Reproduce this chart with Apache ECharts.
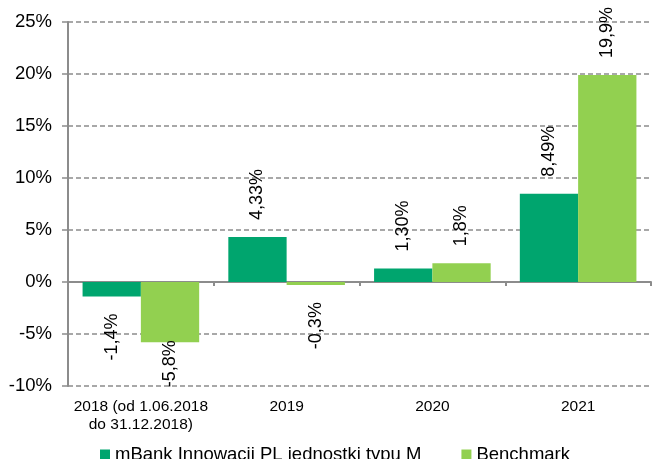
<!DOCTYPE html>
<html>
<head>
<meta charset="utf-8">
<script src="https://cdn.jsdelivr.net/npm/echarts@6/dist/echarts.min.js"></script>
<style>
html, body { margin: 0; padding: 0; background: #fff; }
#chart { width: 652px; height: 459px; }
</style>
</head>
<body>
<div id="chart"></div>
<script>
// dane
var categories = ['2018 (od 1.06.2018\ndo 31.12.2018)', '2019', '2020', '2021'];
var fundName = 'mBank Innowacji PL jednostki typu M';
var benchName = 'Benchmark';
var fundValues = [-1.4, 4.33, 1.30, 8.49];
var benchValues = [-5.8, -0.3, 1.8, 19.9];
var fundLabels = ['-1,4%', '4,33%', '1,30%', '8,49%'];
var benchLabels = ['-5,8%', '-0,3%', '1,8%', '19,9%'];

var fontFamily = 'Liberation Sans, Arial, sans-serif';
var gray = '#8c8c8c';

// etykiety obrocone o 90 stopni, nad lub pod slupkiem
function buildData(values, labels, distances) {
	var out = [];
	for (var i = 0; i < values.length; i++) {
		var neg = values[i] < 0;
		out.push({
			value: values[i],
			label: {
				show: true,
				formatter: labels[i],
				position: neg ? 'bottom' : 'top',
				rotate: 90,
				align: neg ? 'right' : 'left',
				verticalAlign: 'middle',
				distance: distances ? distances[i] : 17,
				color: '#000',
				fontSize: 18,
				fontFamily: fontFamily
			}
		});
	}
	return out;
}

var chart = echarts.init(document.getElementById('chart'));
var option = {
	animation: false,
	grid: {
		left: 68,
		right: 1,
		top: 22,
		bottom: 73
	},
	legend: {
		left: 95,
		top: 440,
		itemWidth: 10,
		itemHeight: 10,
		itemGap: 40,
		icon: 'rect',
		textStyle: {
			fontSize: 18.5,
			color: '#000',
			fontFamily: fontFamily
		},
		data: [fundName, benchName]
	},
	xAxis: [{
		type: 'category',
		data: categories,
		position: 'bottom',
		axisLine: { show: false, onZero: false },
		axisTick: { show: false },
		axisLabel: {
			interval: 0,
			color: '#000',
			fontSize: 15.5,
			lineHeight: 18,
			margin: 12,
			fontFamily: fontFamily
		},
		splitLine: { show: false }
	}, {
		//linia zera
		type: 'category',
		data: categories,
		position: 'bottom',
		axisLine: { show: true, onZero: true, lineStyle: { color: gray, width: 2 } },
		axisTick: { show: true, inside: false, length: 4, lineStyle: { color: gray, width: 2 } },
		axisLabel: { show: false },
		splitLine: { show: false }
	}],
	yAxis: {
		type: 'value',
		min: -10,
		max: 25,
		interval: 5,
		axisLine: { show: true, lineStyle: { color: gray, width: 2 } },
		axisTick: { show: true, length: 6, lineStyle: { color: gray, width: 1.5 } },
		axisLabel: {
			formatter: '{value}%',
			color: '#000',
			fontSize: 18.5,
			margin: 16,
			fontFamily: fontFamily
		},
		splitLine: {
			show: true,
			lineStyle: { color: gray, width: 1.5, type: [5, 3] }
		}
	},
	series: [{
		name: fundName,
		type: 'bar',
		barCategoryGap: '20%',
		barGap: 0,
		itemStyle: { color: '#00a56e' },
		data: buildData(fundValues, fundLabels)
	}, {
		name: benchName,
		type: 'bar',
		barCategoryGap: '20%',
		barGap: 0,
		itemStyle: { color: '#92d050' },
		data: buildData(benchValues, benchLabels, [-2, 17, 17, 17])
	}]
};
chart.setOption(option);
</script>
</body>
</html>
